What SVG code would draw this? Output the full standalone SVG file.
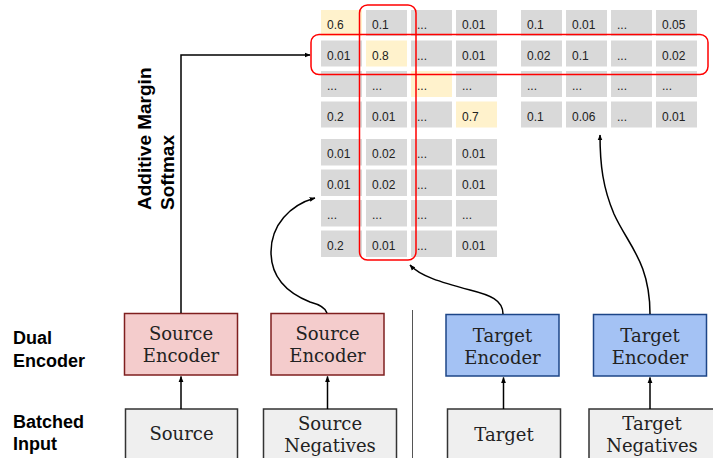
<svg xmlns="http://www.w3.org/2000/svg" width="713" height="458" viewBox="0 0 713 458">
<defs>
<style>
.g{fill:#d9d9d9}
.y{fill:#fff2cc}
.t{font-family:"Liberation Sans",Arial,sans-serif;font-size:12px;fill:#222}
.lbl{font-family:"Liberation Sans",Arial,sans-serif;font-size:18px;font-weight:bold;fill:#000}
.bx{font-family:"DejaVu Serif",serif;font-size:18px;fill:#222;text-anchor:middle}
.src{fill:#f4cccc;stroke:#7f1f1f;stroke-width:1.5}
.tgt{fill:#a4c2f4;stroke:#1c4587;stroke-width:1.5}
.inp{fill:#efefef;stroke:#333;stroke-width:1.5}
.c{fill:none;stroke:#000;stroke-width:1.5}
.red{fill:none;stroke:#ff0000;stroke-width:1.5}
</style>
<marker id="ah" viewBox="0 0 10 10" refX="9" refY="5" markerWidth="6" markerHeight="6" orient="auto" markerUnits="userSpaceOnUse">
<path d="M0,1 L10,5 L0,9 Z" fill="#000"/>
</marker>
</defs>
<rect width="713" height="458" fill="#fff"/>

<g id="grid-upper">
<rect class="y" x="321" y="10" width="41" height="26"/><text class="t" x="327" y="29">0.6</text>
<rect class="g" x="366" y="10" width="41" height="26"/><text class="t" x="372" y="29">0.1</text>
<rect class="g" x="411" y="10" width="41" height="26"/><text class="t" x="417" y="29">...</text>
<rect class="g" x="456" y="10" width="41" height="26"/><text class="t" x="462" y="29">0.01</text>
<rect class="g" x="321" y="40.5" width="41" height="26"/><text class="t" x="327" y="59.5">0.01</text>
<rect class="y" x="366" y="40.5" width="41" height="26"/><text class="t" x="372" y="59.5">0.8</text>
<rect class="g" x="411" y="40.5" width="41" height="26"/><text class="t" x="417" y="59.5">...</text>
<rect class="g" x="456" y="40.5" width="41" height="26"/><text class="t" x="462" y="59.5">0.01</text>
<rect class="g" x="321" y="71" width="41" height="26"/><text class="t" x="327" y="90">...</text>
<rect class="g" x="366" y="71" width="41" height="26"/><text class="t" x="372" y="90">...</text>
<rect class="y" x="411" y="71" width="41" height="26"/><text class="t" x="417" y="90">...</text>
<rect class="g" x="456" y="71" width="41" height="26"/><text class="t" x="462" y="90">...</text>
<rect class="g" x="321" y="101.5" width="41" height="26"/><text class="t" x="327" y="120.5">0.2</text>
<rect class="g" x="366" y="101.5" width="41" height="26"/><text class="t" x="372" y="120.5">0.01</text>
<rect class="g" x="411" y="101.5" width="41" height="26"/><text class="t" x="417" y="120.5">...</text>
<rect class="y" x="456" y="101.5" width="41" height="26"/><text class="t" x="462" y="120.5">0.7</text>
</g>

<g id="grid-lower">
<rect class="g" x="321" y="139" width="41" height="26.5"/><text class="t" x="327" y="158.3">0.01</text>
<rect class="g" x="366" y="139" width="41" height="26.5"/><text class="t" x="372" y="158.3">0.02</text>
<rect class="g" x="411" y="139" width="41" height="26.5"/><text class="t" x="417" y="158.3">...</text>
<rect class="g" x="456" y="139" width="41" height="26.5"/><text class="t" x="462" y="158.3">0.01</text>
<rect class="g" x="321" y="169.5" width="41" height="26.5"/><text class="t" x="327" y="188.8">0.01</text>
<rect class="g" x="366" y="169.5" width="41" height="26.5"/><text class="t" x="372" y="188.8">0.02</text>
<rect class="g" x="411" y="169.5" width="41" height="26.5"/><text class="t" x="417" y="188.8">...</text>
<rect class="g" x="456" y="169.5" width="41" height="26.5"/><text class="t" x="462" y="188.8">0.01</text>
<rect class="g" x="321" y="200" width="41" height="26.5"/><text class="t" x="327" y="219.3">...</text>
<rect class="g" x="366" y="200" width="41" height="26.5"/><text class="t" x="372" y="219.3">...</text>
<rect class="g" x="411" y="200" width="41" height="26.5"/><text class="t" x="417" y="219.3">...</text>
<rect class="g" x="456" y="200" width="41" height="26.5"/><text class="t" x="462" y="219.3">...</text>
<rect class="g" x="321" y="230.5" width="41" height="26.5"/><text class="t" x="327" y="249.8">0.2</text>
<rect class="g" x="366" y="230.5" width="41" height="26.5"/><text class="t" x="372" y="249.8">0.01</text>
<rect class="g" x="411" y="230.5" width="41" height="26.5"/><text class="t" x="417" y="249.8">...</text>
<rect class="g" x="456" y="230.5" width="41" height="26.5"/><text class="t" x="462" y="249.8">0.01</text>
</g>

<g id="grid-right">
<rect class="g" x="521" y="10" width="41" height="26"/><text class="t" x="527" y="29">0.1</text>
<rect class="g" x="566" y="10" width="41" height="26"/><text class="t" x="572" y="29">0.01</text>
<rect class="g" x="611" y="10" width="41" height="26"/><text class="t" x="617" y="29">...</text>
<rect class="g" x="656" y="10" width="41" height="26"/><text class="t" x="662" y="29">0.05</text>
<rect class="g" x="521" y="40.5" width="41" height="26"/><text class="t" x="527" y="59.5">0.02</text>
<rect class="g" x="566" y="40.5" width="41" height="26"/><text class="t" x="572" y="59.5">0.1</text>
<rect class="g" x="611" y="40.5" width="41" height="26"/><text class="t" x="617" y="59.5">...</text>
<rect class="g" x="656" y="40.5" width="41" height="26"/><text class="t" x="662" y="59.5">0.02</text>
<rect class="g" x="521" y="71" width="41" height="26"/><text class="t" x="527" y="90">...</text>
<rect class="g" x="566" y="71" width="41" height="26"/><text class="t" x="572" y="90">...</text>
<rect class="g" x="611" y="71" width="41" height="26"/><text class="t" x="617" y="90">...</text>
<rect class="g" x="656" y="71" width="41" height="26"/><text class="t" x="662" y="90">...</text>
<rect class="g" x="521" y="101.5" width="41" height="26"/><text class="t" x="527" y="120.5">0.1</text>
<rect class="g" x="566" y="101.5" width="41" height="26"/><text class="t" x="572" y="120.5">0.06</text>
<rect class="g" x="611" y="101.5" width="41" height="26"/><text class="t" x="617" y="120.5">...</text>
<rect class="g" x="656" y="101.5" width="41" height="26"/><text class="t" x="662" y="120.5">0.01</text>
</g>

<g id="highlights">
<rect class="red" x="359.5" y="5" width="56.5" height="255" rx="8"/>
<rect class="red" x="311" y="34.5" width="397" height="40" rx="8"/>
</g>

<g id="labels">
<text class="lbl" style="font-size:19px" transform="translate(151,210) rotate(-90)">Additive Margin</text>
<text class="lbl" style="font-size:19px" transform="translate(174,210) rotate(-90)">Softmax</text>
<text class="lbl" x="13" y="344">Dual</text>
<text class="lbl" x="13" y="367">Encoder</text>
<text class="lbl" x="13" y="428">Batched</text>
<text class="lbl" x="13" y="450">Input</text>
</g>

<line x1="412.5" y1="310" x2="412.5" y2="458" stroke="#555" stroke-width="1"/>

<g id="src-enc-1"><rect class="src" x="124.5" y="313.5" width="113" height="61.5"/><text class="bx" x="181" y="340">Source</text><text class="bx" x="181" y="362">Encoder</text></g>
<g id="src-enc-2"><rect class="src" x="271" y="313.5" width="113" height="61.5"/><text class="bx" x="327.5" y="340">Source</text><text class="bx" x="327.5" y="362">Encoder</text></g>
<g id="tgt-enc-1"><rect class="tgt" x="446" y="314.5" width="113" height="61.5"/><text class="bx" x="502.5" y="341.5">Target</text><text class="bx" x="502.5" y="363.5">Encoder</text></g>
<g id="tgt-enc-2"><rect class="tgt" x="593.5" y="314.5" width="113" height="61.5"/><text class="bx" x="650" y="341.5">Target</text><text class="bx" x="650" y="363.5">Encoder</text></g>

<g id="in-source"><rect class="inp" x="125.5" y="409" width="112" height="60"/><text class="bx" x="181.5" y="440">Source</text></g>
<g id="in-source-neg"><rect class="inp" x="263.5" y="409" width="133" height="60"/><text class="bx" x="330" y="429.5">Source</text><text class="bx" x="330" y="452">Negatives</text></g>
<g id="in-target"><rect class="inp" x="447.5" y="409" width="113" height="60"/><text class="bx" x="504" y="441">Target</text></g>
<g id="in-target-neg"><rect class="inp" x="589" y="409" width="130" height="60"/><text class="bx" x="652" y="429.5">Target</text><text class="bx" x="652" y="452">Negatives</text></g>

<g id="connectors">
<path class="c" d="M181,409 V376.5" marker-end="url(#ah)"/>
<path class="c" d="M327.5,409 V376.5" marker-end="url(#ah)"/>
<path class="c" d="M503.5,409 V377.5" marker-end="url(#ah)"/>
<path class="c" d="M650,409 V377.5" marker-end="url(#ah)"/>
<path class="c" d="M181,313 V55 H310" marker-end="url(#ah)"/>
<path class="c" d="M327,313 Q325,306 310,302 C285,292 271,275 271,252 C271,225 290,205 315,198" marker-end="url(#ah)"/>
<path class="c" d="M503,314 C503,300 490,295 470,290 C440,282 420,276 410,265" marker-end="url(#ah)"/>
<path class="c" d="M650,314 C650,262 628,245 614,214 C603,188 600,165 600,135" marker-end="url(#ah)"/>
</g>
</svg>
